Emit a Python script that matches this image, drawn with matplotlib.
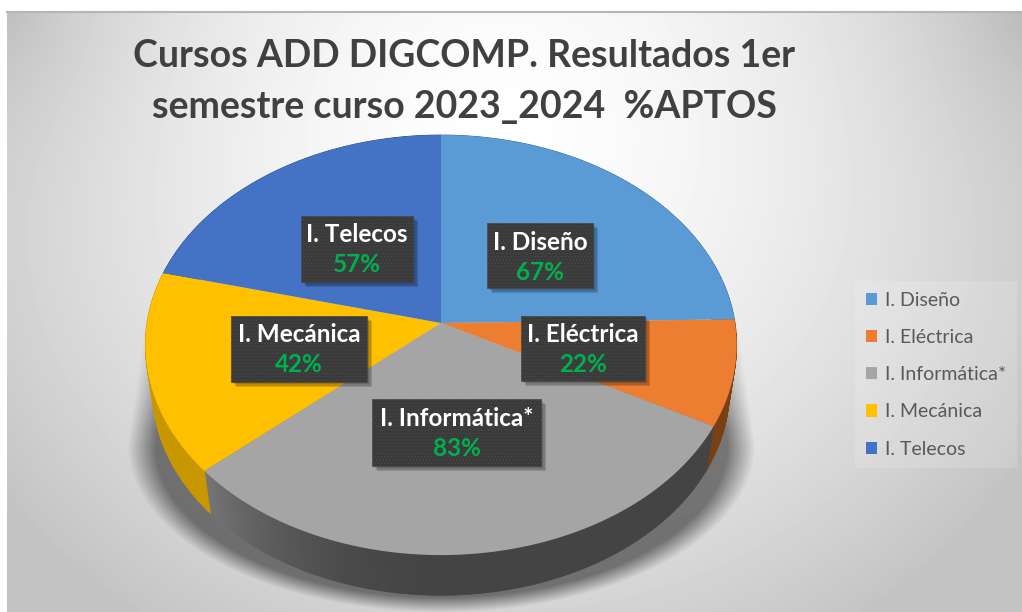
import numpy as np
import matplotlib
matplotlib.use("Agg")

import matplotlib.pyplot as plt
from matplotlib.colors import to_rgb
from matplotlib.patches import Patch, Rectangle

plt.rcParams["hatch.linewidth"] = 0.5

# DATA
categories = ["I. Diseño", "I. Eléctrica", "I. Informática*", "I. Mecánica", "I. Telecos"]
aptos = [67, 22, 83, 42, 57]
title_lines = ["Cursos ADD DIGCOMP. Resultados 1er", "semestre curso 2023_2024  %APTOS"]

# STYLE
top_colors = ["#5B9BD5", "#ED7D31", "#A5A5A5", "#FFC000", "#4472C4"]
wall_colors = ["#3A6A96", "#7A4014", "#444444", "#C99800", "#2E4F8A"]
wall_shade = [0, 0, 1.3, 0, 0]
label_boxes = [(487, 223, 593, 288), (521, 316, 645, 381), (372, 399, 541, 466),
               (231, 316, 367, 382), (301, 216, 413, 282)]

# pie geometry in image pixels, with the perspective of the 3D chart
CX, CY = 441, 323
RX, RY, PERSP = 294, 207.7, 0.105
DEPTH, BOTTOM_SCALE = 46, 0.975


def project(angle, radius=1.0):
    # angle runs clockwise from 12 o'clock
    u = radius * np.sin(angle)
    v = radius * np.cos(angle)
    w = 1 + PERSP * v
    return RX * u / w, -RY * v / w


def background(width=1022, height=612):
    yy, xx = np.mgrid[0:height, 0:width]
    r = np.sqrt(((xx - 500) / 560.0) ** 2 + ((yy - 130) / 520.0) ** 2)
    base = 1 - 0.19 * np.clip(r, 0, 1.15) ** 1.6

    # top corners are a bit darker
    for corner_x in (7, 1022):
        dist = np.sqrt((xx - corner_x) ** 2 + (yy - 12) ** 2)
        base -= 0.09 * np.exp(-dist / 130.0)

    # soft shadow under the pie: straight sides, then a round bottom
    half_w = 296 + 18 * (yy - 320) / 125.0
    n = np.where(yy < 445, np.abs(xx - CX) / np.maximum(half_w, 1),
                 np.sqrt(((xx - CX) / 314.0) ** 2 + ((yy - 445) / 167.0) ** 2))
    shadow = np.clip((1 - n) / 0.09, 0, 1)
    ramp = 0.35 + 0.65 * np.clip((yy - 320) / 110.0, 0, 1)
    shadow = np.where(yy < 320, 0, shadow * ramp)
    base = base * (1 - 0.48 * shadow)
    return np.clip(base, 0, 1)


fig = plt.figure(figsize=(10.22, 6.12), dpi=100, facecolor="white")
ax = fig.add_axes([0, 0, 1, 1])
ax.set_xlim(0, 1022)
ax.set_ylim(612, 0)
ax.axis("off")

ax.imshow(background(), cmap="gray", vmin=0, vmax=1, extent=(0, 1022, 612, 0),
          aspect="auto", zorder=0, interpolation="bilinear")
ax.add_patch(Rectangle((0, 0), 7, 612, fc="white", ec="none", zorder=1))
ax.add_patch(Rectangle((0, 0), 1022, 11, fc="white", ec="none", zorder=1))
ax.plot([7, 1022], [12, 12], color="#b5b5b5", lw=1.5, zorder=1)

# SLICE ANGLES
fractions = np.array(aptos) / sum(aptos)
edges = np.concatenate([[0], np.cumsum(fractions)]) * 2 * np.pi

# WALLS
for i, wall in enumerate(wall_colors):
    steps = np.linspace(edges[i], edges[i + 1], int(fractions[i] * 360) + 2)
    rgb = np.array(to_rgb(wall))
    for a0, a1 in zip(steps[:-1], steps[1:]):
        x0, y0 = project(a0)
        x1, y1 = project(a1)
        xs = [x0, x1, x1 * BOTTOM_SCALE, x0 * BOTTOM_SCALE]
        ys = [y0, y1, y1 * BOTTOM_SCALE + DEPTH, y0 * BOTTOM_SCALE + DEPTH]
        # lighter towards the left of the pie
        shade = 1 + wall_shade[i] * max(0, -np.sin(a0)) ** 2
        ax.fill(CX + np.array(xs), CY + np.array(ys), color=np.clip(rgb * shade, 0, 1),
                lw=0.6, zorder=2)

# TOP FACE
for i, color in enumerate(top_colors):
    angles = np.linspace(edges[i], edges[i + 1], 120)
    px, py = project(angles)
    ax.fill(np.r_[CX, CX + px], np.r_[CY, CY + py], color=color, lw=0, zorder=3)

# TITLE
for line, y in zip(title_lines, [56, 107]):
    ax.text(464, y, line, fontsize=27, fontweight="bold", family="Lato", color="#404040",
            ha="center", va="center", zorder=6)

# DATA LABELS
for name, val, (x0, y0, x1, y1) in zip(categories, aptos, label_boxes):
    for off in (2, 3.5, 5):
        ax.add_patch(Rectangle((x0 + off, y0 + off), x1 - x0, y1 - y0, fc="black", alpha=0.14,
                               ec="none", zorder=4))
    ax.add_patch(Rectangle((x0, y0), x1 - x0, y1 - y0, fc="#3a3a3a", ec="#4a4a4a", lw=0.5,
                           zorder=5))
    ax.add_patch(Rectangle((x0, y0), x1 - x0, y1 - y0, fc="none", ec="#4a4a4a", lw=0,
                           hatch=".....", zorder=5))
    xm = (x0 + x1) / 2
    ax.text(xm, y0 + 19, name, fontsize=17.5, fontweight="bold", family="Lato", color="white",
            ha="center", va="center", zorder=6)
    ax.text(xm, y0 + 49, f"{val}%", fontsize=17.5, fontweight="bold", family="Lato",
            color="#00B050", ha="center", va="center", zorder=6)

# LEGEND
handles = [Patch(fc=c, ec="none", label=n) for c, n in zip(top_colors, categories)]
leg = ax.legend(handles=handles, loc="upper left", bbox_to_anchor=(855, 281),
                bbox_transform=ax.transData, frameon=True, facecolor="white", edgecolor="none",
                framealpha=0.15, fancybox=False, prop={"family": "Lato", "size": 14},
                labelcolor="#595959", handlelength=0.58, handleheight=0.58, handletextpad=0.4,
                labelspacing=1.04, borderaxespad=0, borderpad=0.55)
leg.set_zorder(6)

fig.savefig("out.png", dpi=100, facecolor="white")
